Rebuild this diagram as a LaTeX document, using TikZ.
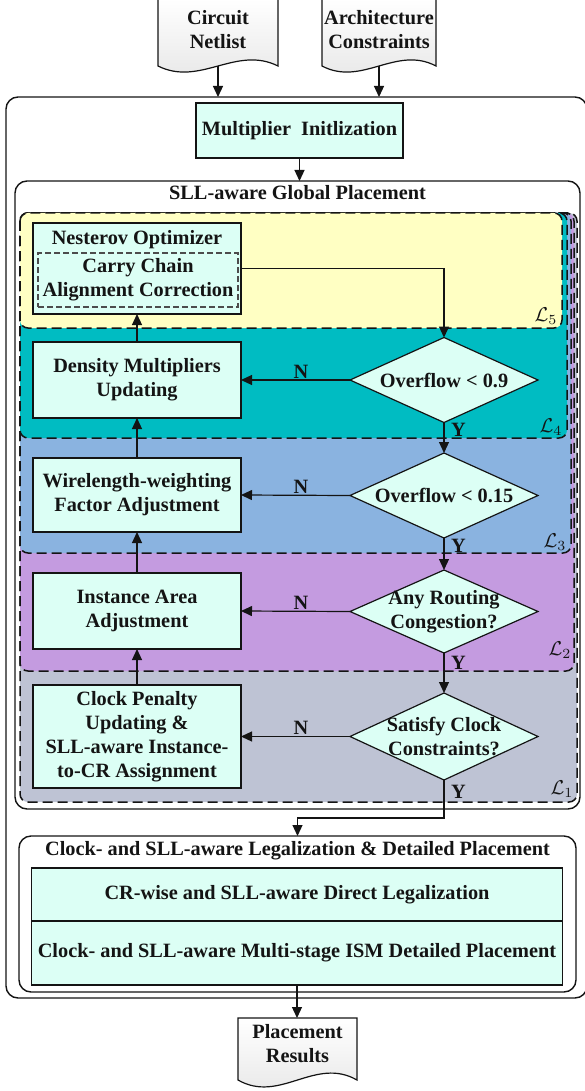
\RequirePackage{fix-cm}
\documentclass[tikz,border=0pt]{standalone}
\usepackage{fontspec}
\setmainfont{Liberation Serif}
\usepackage{amsmath,amssymb}
\usepackage{tikz}
\usetikzlibrary{arrows.meta,shapes.geometric}

\definecolor{inkc}{RGB}{20,20,20}
\definecolor{boxfill}{RGB}{220,255,245}
\definecolor{lfive}{RGB}{255,255,195}
\definecolor{lfour}{RGB}{0,188,194}
\definecolor{lthree}{RGB}{138,179,224}
\definecolor{ltwo}{RGB}{196,155,224}
\definecolor{lone}{RGB}{190,195,212}

\tikzset{
  txt/.style={inner sep=0pt,outer sep=0pt,align=center,text=inkc,font=\bfseries\fontsize{20.3}{24}\selectfont},
  procbox/.style={txt,draw=inkc,fill=boxfill,line width=1.2pt},
  decide/.style={diamond,draw=inkc,fill=boxfill,line width=1.2pt,inner sep=0pt,outer sep=0pt},
  group/.style={draw=inkc,fill=white,line width=1.4pt,rounded corners=12pt,inner sep=0pt,outer sep=0pt},
  region/.style={draw=inkc,line width=1.5pt,dash pattern=on 10pt off 5pt,rounded corners=8pt},
  docshape/.style={draw=inkc,line width=1.2pt,top color=white,bottom color=black!10},
  lname/.style={inner sep=0pt,outer sep=0pt,text=inkc},
  arr/.style={draw=inkc,line width=1.2pt,-{Triangle[length=11pt,width=10pt]}},
}

\begin{document}
\begin{tikzpicture}[x=1pt,y=-1pt]
\path[use as bounding box] (0,0) rectangle (585,1091);
\path[fill=white,draw=none] (0,0) rectangle (585,1091);

% inputs
\path[docshape] (158,-1) -- (278,-1) -- (278,66) .. controls (236,45) and (200,87) .. (158,66) -- cycle;
\node[txt] (netlist) at (218,30) {Circuit\\Netlist};
\coordinate (netlist-b) at (218,66);
\path[docshape] (322,-1) -- (436,-1) -- (436,66) .. controls (396,45) and (362,87) .. (322,66) -- cycle;
\node[txt] (arch) at (379,30) {Architecture\\Constraints};
\coordinate (arch-b) at (379,66);

% frames
\node[group,minimum width=581pt,minimum height=901pt] (outer) at (296.5,547.5) {};
\node[procbox,minimum width=207pt,minimum height=55pt] (init) at (299.5,130.5) {Multiplier\ \ Initlization};
\node[group,minimum width=565pt,minimum height=628pt] (gp) at (297.5,495) {};
\node[txt] (gptitle) at (297.5,193) {SLL-aware Global Placement};

% nested loops, back to front
\draw[region,fill=lone] (20,213) rectangle (577,802);
\draw[region,fill=ltwo] (20,213) rectangle (574,671);
\draw[region,fill=lthree] (20,213) rectangle (571,553);
\draw[region,fill=lfour] (20,213) rectangle (567,438);
\draw[region,fill=lfive] (20,213) rectangle (562,328);
\node[lname] (lab1) at (562,789) {\scalebox{2}{$\mathcal{L}_1$}};
\node[lname] (lab2) at (560,650) {\scalebox{2}{$\mathcal{L}_2$}};
\node[lname] (lab3) at (555,542) {\scalebox{2}{$\mathcal{L}_3$}};
\node[lname] (lab4) at (551,427) {\scalebox{2}{$\mathcal{L}_4$}};
\node[lname] (lab5) at (546,316) {\scalebox{2}{$\mathcal{L}_5$}};

% steps
\node[procbox,minimum width=208pt,minimum height=91pt] (nest) at (137,268.5) {};
\node[txt] (nesttxt) at (137,240) {Nesterov Optimizer};
\node[procbox,draw=black!70,dash pattern=on 6pt off 3pt,minimum width=200pt,minimum height=54pt] (carry) at (138,280) {Carry Chain\\Alignment Correction};
\node[procbox,minimum width=208pt,minimum height=76pt] (dens) at (137,380) {Density Multipliers\\Updating};
\node[procbox,minimum width=208pt,minimum height=74pt] (wire) at (137,495) {Wirelength-weighting\\Factor Adjustment};
\node[procbox,minimum width=208pt,minimum height=76pt] (inst) at (137,611) {Instance Area\\Adjustment};
\node[procbox,minimum width=208pt,minimum height=103pt] (clk) at (137,736.5) {Clock Penalty\\Updating \&\\SLL-aware Instance-\\to-CR Assignment};

% checks
\node[decide,minimum width=188pt,minimum height=85pt] (ovA) at (444,380) {};
\node[txt] (ovAtxt) at (ovA) {Overflow < 0.9};
\node[decide,minimum width=188pt,minimum height=85pt] (ovB) at (444,495.5) {};
\node[txt] (ovBtxt) at (ovB) {Overflow < 0.15};
\node[decide,minimum width=188pt,minimum height=83pt] (cong) at (444,611.5) {};
\node[txt] (congtxt) at (cong) {Any Routing\\Congestion?};
\node[decide,minimum width=188pt,minimum height=87pt] (clkok) at (444,736.5) {};
\node[txt] (clkoktxt) at (clkok) {Satisfy Clock\\Constraints?};

% legalization
\node[group,minimum width=557pt,minimum height=156pt] (legal) at (297.5,914) {};
\node[txt] (legaltitle) at (297.5,851) {Clock- and SLL-aware Legalization \& Detailed Placement};
\node[procbox,minimum width=531pt,minimum height=53pt] (lega) at (297,894.5) {CR-wise and SLL-aware Direct Legalization};
\node[procbox,minimum width=531pt,minimum height=64pt] (legb) at (297,953) {Clock- and SLL-aware Multi-stage ISM Detailed Placement};

% output
\path[docshape] (238,1018) -- (357,1018) -- (357,1080) .. controls (315,1056) and (280,1104) .. (238,1080) -- cycle;
\node[txt] (results) at (297.5,1044) {Placement\\Results};
\coordinate (results-t) at (297.5,1018);

% connectors
\draw[arr] (netlist-b) -- (netlist-b |- outer.north);
\draw[arr] (arch-b) -- (arch-b |- outer.north);
\draw[arr] (init.south) -- (init.south |- gp.north);
\draw[arr] (nest.east) -| (ovA.north);
\draw[arr] (ovA.west) -- node[txt,above=2pt,pos=0.45] {N} (dens.east);
\draw[arr] (ovB.west) -- node[txt,above=2pt,pos=0.45] {N} (wire.east);
\draw[arr] (cong.west) -- node[txt,above=2pt,pos=0.45] {N} (inst.east);
\draw[arr] (clkok.west) -- node[txt,above=2pt,pos=0.45] {N} (clk.east);
\draw[arr] (ovA.south) -- node[txt,right=7pt,pos=0.25] {Y} (ovB.north);
\draw[arr] (ovB.south) -- node[txt,right=7pt,pos=0.25] {Y} (cong.north);
\draw[arr] (cong.south) -- node[txt,right=7pt,pos=0.25] {Y} (clkok.north);
\draw[arr] (clkok.south) -- node[txt,right=7pt,pos=0.3] {Y} ++(0,38) -| (legal.north);
\draw[arr] (clk.north) -- (inst.south);
\draw[arr] (inst.north) -- (wire.south);
\draw[arr] (wire.north) -- (dens.south);
\draw[arr] (dens.north) -- (nest.south);
\draw[arr] (legb.south) -- (legb.south |- results-t);
\end{tikzpicture}
\end{document}
